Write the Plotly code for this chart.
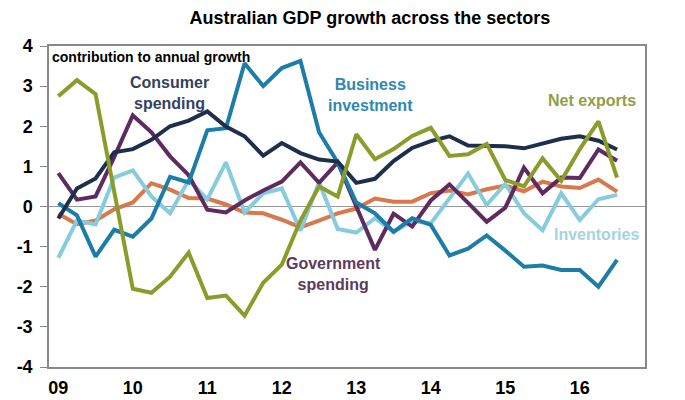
import plotly.graph_objects as go

years = ["09", "10", "11", "12", "13", "14", "15", "16"]
quarters = list(range(31))

consumer = [-0.3, 0.45, 0.7, 1.35, 1.43, 1.66, 2.0, 2.14, 2.37, 1.99, 1.75, 1.27, 1.58, 1.33, 1.17, 1.12,
            0.59, 0.69, 1.13, 1.46, 1.63, 1.75, 1.52, 1.5, 1.5, 1.45, 1.58, 1.69, 1.75, 1.64, 1.42]
business = [0.08, -0.22, -1.25, -0.58, -0.75, -0.3, 0.74, 0.6, 1.9, 1.95, 3.57, 3.0, 3.45, 3.63, 1.85, 1.1,
            0.1, -0.17, -0.63, -0.29, -0.46, -1.22, -1.05, -0.72, -1.1, -1.5, -1.47, -1.58, -1.58, -2.0, -1.33]
net_exports = [2.75, 3.15, 2.8, 0.4, -2.05, -2.15, -1.75, -1.15, -2.28, -2.22, -2.72, -1.9, -1.45, -0.35, 0.5, 0.25,
               1.8, 1.18, 1.43, 1.76, 1.96, 1.26, 1.3, 1.56, 0.66, 0.5, 1.2, 0.64, 1.43, 2.12, 0.72]
government = [0.83, 0.17, 0.25, 1.23, 2.27, 1.85, 1.25, 0.78, -0.08, -0.15, 0.15, 0.4, 0.62, 1.1, 0.59, 1.1,
              0.0, -1.08, -0.18, -0.5, 0.15, 0.55, 0.09, -0.38, -0.03, 0.97, 0.33, 0.72, 0.71, 1.42, 1.14]
other = [-0.18, -0.44, -0.35, -0.07, 0.1, 0.58, 0.42, 0.21, 0.2, 0.05, -0.15, -0.17, -0.33, -0.52, -0.35, -0.17,
         -0.05, 0.2, 0.12, 0.12, 0.33, 0.4, 0.3, 0.43, 0.52, 0.38, 0.62, 0.5, 0.46, 0.67, 0.37]
inventories = [-1.28, -0.35, -0.45, 0.72, 0.9, 0.25, -0.17, 0.66, 0.18, 1.1, -0.15, 0.33, 0.45, -0.6, 0.6, -0.56,
               -0.65, -0.29, -0.63, -0.36, -0.42, 0.2, 0.82, 0.04, 0.56, -0.17, -0.59, 0.33, -0.34, 0.18, 0.29]

y_ticks = [4, 3, 2, 1, 0, -1, -2, -3, -4]
y_ticktext = ["4", "3", "2", "1", "0", "-1", "-2", "-3", "-4"]

series = [
    ("Other", other, "#D8784C"),
    ("Inventories", inventories, "#86CCDD"),
    ("Government spending", government, "#5E2A5F"),
    ("Business investment", business, "#1C7DA8"),
    ("Consumer spending", consumer, "#1D2F4D"),
    ("Net exports", net_exports, "#8B9C2B"),
]

fig = go.Figure()
for name, vals, col in series:
    fig.add_trace(go.Scatter(x=quarters, y=vals, mode="lines", name=name,
                             line=dict(color=col, width=4), showlegend=False))

lab_font = dict(family="Arial", size=16)
annots = [
    dict(x=3.75, y=2.83, text="<b>Consumer<br>spending</b>", xanchor="left", font=dict(lab_font, color="#34425C")),
    dict(x=16.77, y=2.78, text="<b>Business<br>investment</b>", xanchor="center", font=dict(lab_font, color="#2F88AF")),
    dict(x=28.66, y=2.63, text="<b>Net exports</b>", xanchor="center", font=dict(lab_font, color="#919E45")),
    dict(x=28.87, y=-0.69, text="<b>Inventories</b>", xanchor="center", font=dict(lab_font, color="#A3D3E0")),
    dict(x=14.78, y=-1.68, text="<b>Government<br>spending</b>", xanchor="center", font=dict(lab_font, color="#5E3A5E")),
    dict(x=-0.43, y=3.73, text="<b>contribution to annual growth</b>", xanchor="left",
         font=dict(family="Arial", size=14, color="#000000")),
]
for a in annots:
    fig.add_annotation(xref="x", yref="y", showarrow=False, yanchor="middle", **a)

fig.update_layout(
    width=685, height=400,
    margin=dict(l=49, r=40, t=46, b=33),
    paper_bgcolor="white", plot_bgcolor="white",
    title=dict(text="<b>Australian GDP growth across the sectors</b>", x=0.54, xref="container",
               y=0.955, yref="container", xanchor="center", yanchor="middle",
               font=dict(family="Arial", size=18, color="#000000")),
    xaxis=dict(range=[-0.5, 31.5], tickvals=[0, 4, 8, 12, 16, 20, 24, 28],
               ticktext=["<b>%s</b>" % t for t in years], automargin=False,
               showgrid=False, zeroline=False, showline=True, linecolor="#888888", linewidth=1.5,
               mirror=True, ticks="", ticklabelstandoff=4,
               tickfont=dict(family="Arial", size=18, color="#000000")),
    yaxis=dict(range=[-4, 4], tickvals=y_ticks, ticktext=["<b>%s</b>" % t for t in y_ticktext],
               automargin=False,
               showgrid=False, zeroline=True, zerolinecolor="#999999", zerolinewidth=1,
               showline=True, linecolor="#888888", linewidth=1.5, mirror=True,
               ticks="outside", ticklen=7, tickcolor="#888888", ticklabelstandoff=4,
               tickfont=dict(family="Arial", size=18, color="#000000")),
)

fig.write_html("out.html")
